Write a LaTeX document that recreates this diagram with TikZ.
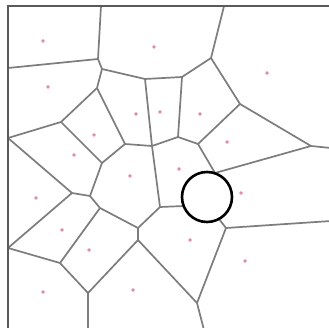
\documentclass[tikz,border=0pt]{standalone}
\begin{document}
\begin{tikzpicture}[x=1pt,y=-1pt,
  edge/.style={draw={rgb,255:red,125;green,125;blue,125},line width=1.7pt,line join=round},
  frame/.style={draw={rgb,255:red,90;green,90;blue,90},line width=1.8pt},
  site/.style={fill={rgb,255:red,140;green,40;blue,70},draw={rgb,255:red,245;green,180;blue,200},line width=0.9pt}]
\useasboundingbox[fill=white] (0,0) rectangle (329,328);
% boundary points
\coordinate (T1) at (101,6);
\coordinate (T2) at (224,6);
\coordinate (L1) at (8,68);
\coordinate (L2) at (8,138);
\coordinate (L3) at (8,248);
\coordinate (R1) at (331,148);
\coordinate (R2) at (331,221);
\coordinate (B1) at (88,330);
\coordinate (B2) at (204,330);
% vertices
\coordinate (V1) at (98,59);
\coordinate (V2) at (102,69);
\coordinate (V3) at (145,79);
\coordinate (V4) at (97,88);
\coordinate (V5) at (182,77);
\coordinate (V6) at (211,58);
\coordinate (V7) at (240,104);
\coordinate (V8) at (178,137);
\coordinate (V9) at (198,144);
\coordinate (V10) at (311,146);
\coordinate (V11) at (61,122);
\coordinate (V12) at (125,144);
\coordinate (V13) at (152,146);
\coordinate (V14) at (160,207);
\coordinate (V15) at (226,228);
\coordinate (V16) at (72,193);
\coordinate (V17) at (90,196);
\coordinate (V18) at (100,208);
\coordinate (V19) at (60,263);
\coordinate (V20) at (88,293);
\coordinate (V21) at (138,228);
\coordinate (V22) at (138,240);
\coordinate (V23) at (102,163);
\coordinate (V24) at (197,303);
\coordinate (H1) at (215,173);
\coordinate (H2) at (208,205);
% edges
\draw[edge] (T1) -- (V1) -- (L1);
\draw[edge] (V1) -- (V2) -- (V3) -- (V5) -- (V6) -- (T2);
\draw[edge] (V2) -- (V4) -- (V11) -- (L2);
\draw[edge] (V4) -- (V12) -- (V13) -- (V3);
\draw[edge] (V6) -- (V7) -- (V10) -- (R1);
\draw[edge] (V5) -- (V8) -- (V13);
\draw[edge] (V8) -- (V9) -- (V7);
\draw[edge] (V9) -- (H1);
\draw[edge] (V10) -- (H1);
\draw[edge] (H1) -- (H2);
\draw[edge] (V13) -- (V14) -- (H2);
\draw[edge] (H2) -- (V15) -- (R2);
\draw[edge] (V15) -- (V24) -- (B2);
\draw[edge] (V11) -- (V23) -- (V12);
\draw[edge] (V23) -- (V17) -- (V16) -- (L2);
\draw[edge] (V16) -- (L3) -- (V19);
\draw[edge] (V17) -- (V18) -- (V19) -- (V20) -- (B1);
\draw[edge] (V18) -- (V21) -- (V14);
\draw[edge] (V21) -- (V22) -- (V20);
\draw[edge] (V22) -- (V24);
% frame
\coordinate (F0) at (8,6);
\coordinate (FT) at (329,6);
\coordinate (FB) at (8,328);
\draw[frame] (FT) -- (F0) -- (FB);
% sites
\foreach \n/\x/\y in {s1/43/41,s2/154/47,s3/48/87,s4/136/114,s5/160/112,s6/94/135,s7/74/155,
  s8/267/73,s9/200/114,s10/227/142,s11/130/176,s12/36/198,s13/62/230,s14/89/250,s15/43/292,
  s16/133/290,s17/179/169,s18/241/193,s19/190/240,s20/245/261}
  \fill[site] (\x,\y) circle (1.5);
% circle
\node[circle,draw=black,fill=white,line width=2.6pt,minimum size=50pt,inner sep=0pt] (ring) at (207,197) {};
\end{tikzpicture}
\end{document}
